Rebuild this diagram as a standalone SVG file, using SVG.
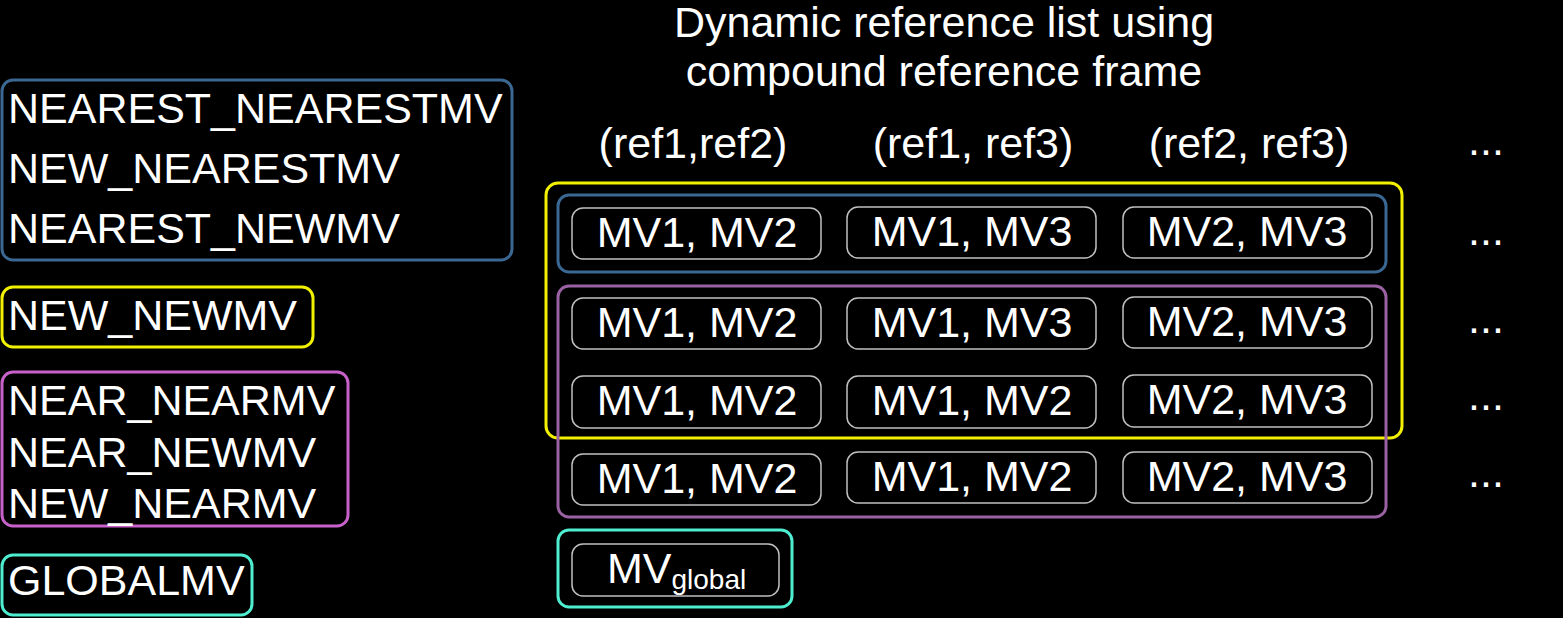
<svg xmlns="http://www.w3.org/2000/svg" width="1563" height="618" viewBox="0 0 1563 618">
<style>
text{font-family:"Liberation Sans",Arial,sans-serif;fill:#ffffff;font-size:43px}
.c{text-anchor:middle}
.grp{fill:none;stroke-width:3}
.blue{stroke:#3b6793}
.yel{stroke:#f0f000}
.mag{stroke:#c760c9}
.pur{stroke:#9a62a3}
.cyan{stroke:#4fedd0}
.cell{fill:#000;stroke:#c0c0c0;stroke-width:1.5}
</style>
<rect width="1563" height="618" fill="#000"/>
<text class="c" x="944" y="37">Dynamic reference list using</text>
<text class="c" x="944" y="86">compound reference frame</text>
<text class="c" x="693" y="158">(ref1,ref2)</text>
<text class="c" x="973" y="158">(ref1, ref3)</text>
<text class="c" x="1249" y="158">(ref2, ref3)</text>
<text class="c" x="1486" y="155">...</text>
<g id="legend-nearest">
<rect class="grp blue" x="2" y="80" width="510" height="180" rx="11"/>
<text x="8" y="123">NEAREST_NEARESTMV</text>
<text x="8" y="183">NEW_NEARESTMV</text>
<text x="8" y="243">NEAREST_NEWMV</text>
</g>
<g id="legend-newnew">
<rect class="grp yel" x="2" y="287" width="311" height="60" rx="11"/>
<text x="8" y="330">NEW_NEWMV</text>
</g>
<g id="legend-near">
<rect class="grp mag" x="2" y="372" width="346" height="154" rx="11"/>
<text x="8" y="415">NEAR_NEARMV</text>
<text x="8" y="467">NEAR_NEWMV</text>
<text x="8" y="518">NEW_NEARMV</text>
</g>
<g id="legend-global">
<rect class="grp cyan" x="2" y="555" width="250" height="60" rx="11"/>
<text x="8" y="595">GLOBALMV</text>
</g>
<g id="group-yellow"><rect class="grp yel" x="546" y="183" width="856" height="255" rx="12"/></g>
<g id="group-blue"><rect class="grp blue" x="558" y="195" width="828" height="77" rx="11"/></g>
<g id="group-purple"><rect class="grp pur" x="558" y="286" width="828" height="231" rx="11"/></g>
<g id="group-cyan"><rect class="grp cyan" x="558" y="530" width="234" height="77" rx="11"/></g>
<g id="r1c1"><rect class="cell" x="572" y="208" width="249" height="51" rx="11"/><text class="c" x="697" y="247">MV1, MV2</text></g>
<g id="r1c2"><rect class="cell" x="847" y="207" width="249" height="51" rx="11"/><text class="c" x="972" y="246">MV1, MV3</text></g>
<g id="r1c3"><rect class="cell" x="1123" y="207" width="249" height="51" rx="11"/><text class="c" x="1247" y="246">MV2, MV3</text></g>
<text class="c" x="1486" y="245">...</text>
<g id="r2c1"><rect class="cell" x="572" y="298" width="249" height="51" rx="11"/><text class="c" x="697" y="337">MV1, MV2</text></g>
<g id="r2c2"><rect class="cell" x="847" y="298" width="249" height="51" rx="11"/><text class="c" x="972" y="337">MV1, MV3</text></g>
<g id="r2c3"><rect class="cell" x="1123" y="297" width="249" height="51" rx="11"/><text class="c" x="1247" y="336">MV2, MV3</text></g>
<text class="c" x="1486" y="333">...</text>
<g id="r3c1"><rect class="cell" x="572" y="376" width="249" height="52" rx="11"/><text class="c" x="697" y="415">MV1, MV2</text></g>
<g id="r3c2"><rect class="cell" x="847" y="376" width="249" height="52" rx="11"/><text class="c" x="972" y="415">MV1, MV2</text></g>
<g id="r3c3"><rect class="cell" x="1123" y="375" width="249" height="52" rx="11"/><text class="c" x="1247" y="414">MV2, MV3</text></g>
<text class="c" x="1486" y="410">...</text>
<g id="r4c1"><rect class="cell" x="572" y="454" width="249" height="51" rx="11"/><text class="c" x="697" y="493">MV1, MV2</text></g>
<g id="r4c2"><rect class="cell" x="847" y="452" width="249" height="51" rx="11"/><text class="c" x="972" y="491">MV1, MV2</text></g>
<g id="r4c3"><rect class="cell" x="1123" y="452" width="249" height="51" rx="11"/><text class="c" x="1247" y="491">MV2, MV3</text></g>
<text class="c" x="1486" y="487">...</text>
<g id="mvglobal"><rect class="cell" x="572" y="544" width="207" height="52" rx="11"/><text x="607" y="583">MV<tspan font-size="28" dy="6">global</tspan></text></g>
<g id="connectors"/>
</svg>
